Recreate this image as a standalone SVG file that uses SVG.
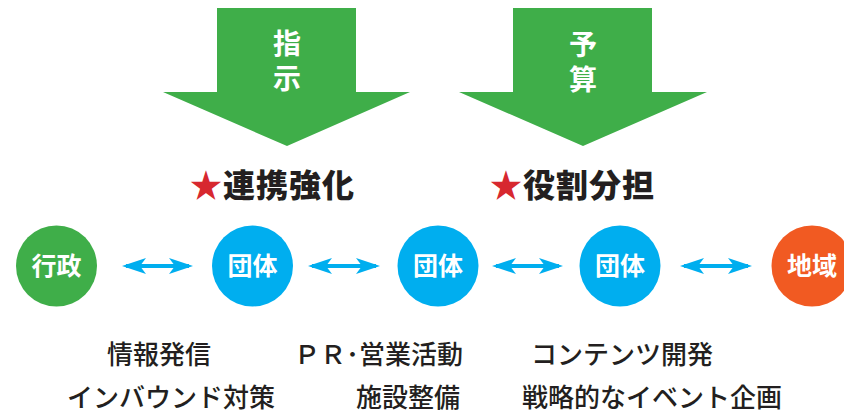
<svg xmlns="http://www.w3.org/2000/svg" width="844" height="414" viewBox="0 0 844 414">
<style>
.big{fill:#3fae49}
.bt{font-family:"Noto Sans CJK JP",sans-serif;font-weight:700;font-size:28px;fill:#fff;writing-mode:vertical-rl;letter-spacing:7px}
.hd{font-family:"Noto Sans CJK JP",sans-serif;font-weight:900;font-size:32px;letter-spacing:1px;fill:#231f20}
.star{fill:#d7282f}
.nt{font-family:"Noto Sans CJK JP",sans-serif;font-weight:700;font-size:25px;fill:#fff;text-anchor:middle}
.lb{font-family:"Noto Sans CJK JP",sans-serif;font-weight:500;font-size:26px;fill:#231f20}
.con{stroke:#00aeef;stroke-width:4;fill:none}
.ah{fill:#00aeef}
</style>
<defs>
<marker id="h" viewBox="0 0 24 16" refX="20" refY="8" markerWidth="24" markerHeight="16" markerUnits="userSpaceOnUse" orient="auto-start-reverse">
<path class="ah" d="M0,0 L24,8 L0,16 L6,8 Z"/>
</marker>
</defs>
<g id="arrow-shiji">
<polygon class="big" points="217,8 356,8 356,92 410,92 287,146 163,92 217,92"/>
<text class="bt" x="287" y="29">指示</text>
</g>
<g id="arrow-yosan">
<polygon class="big" points="513,8 652,8 652,92 707,92 583,146 459,92 513,92"/>
<text class="bt" x="583" y="30">予算</text>
</g>
<g id="label-renkei">
<text class="hd" x="190" y="197"><tspan class="star">★</tspan>連携強化</text>
</g>
<g id="label-yakuwari">
<text class="hd" x="490" y="197"><tspan class="star">★</tspan>役割分担</text>
</g>
<g id="node-gyosei">
<circle cx="56.5" cy="266" r="40.5" fill="#3fae49"/>
<text class="nt" x="56.5" y="275">行政</text>
</g>
<g id="node-dantai1">
<circle cx="252.5" cy="266" r="40.5" fill="#00aeef"/>
<text class="nt" x="252.5" y="275">団体</text>
</g>
<g id="node-dantai2">
<circle cx="438" cy="266" r="40.5" fill="#00aeef"/>
<text class="nt" x="438" y="275">団体</text>
</g>
<g id="node-dantai3">
<circle cx="620" cy="266" r="40.5" fill="#00aeef"/>
<text class="nt" x="620" y="275">団体</text>
</g>
<g id="node-chiiki">
<circle cx="812" cy="266" r="40.5" fill="#f15a22"/>
<text class="nt" x="812" y="275">地域</text>
</g>
<g id="connectors">
<line class="con" x1="126" y1="266" x2="189" y2="266" marker-start="url(#h)" marker-end="url(#h)"/>
<line class="con" x1="312" y1="266" x2="376" y2="266" marker-start="url(#h)" marker-end="url(#h)"/>
<line class="con" x1="496" y1="266" x2="559" y2="266" marker-start="url(#h)" marker-end="url(#h)"/>
<line class="con" x1="684" y1="266" x2="748" y2="266" marker-start="url(#h)" marker-end="url(#h)"/>
</g>
<g id="labels">
<text class="lb" x="107" y="364">情報発信</text>
<text class="lb" x="294" y="364">ＰＲ･営業活動</text>
<text class="lb" x="531" y="364">コンテンツ開発</text>
<text class="lb" x="67" y="407">インバウンド対策</text>
<text class="lb" x="356" y="407">施設整備</text>
<text class="lb" x="522" y="407">戦略的なイベント企画</text>
</g>
</svg>
